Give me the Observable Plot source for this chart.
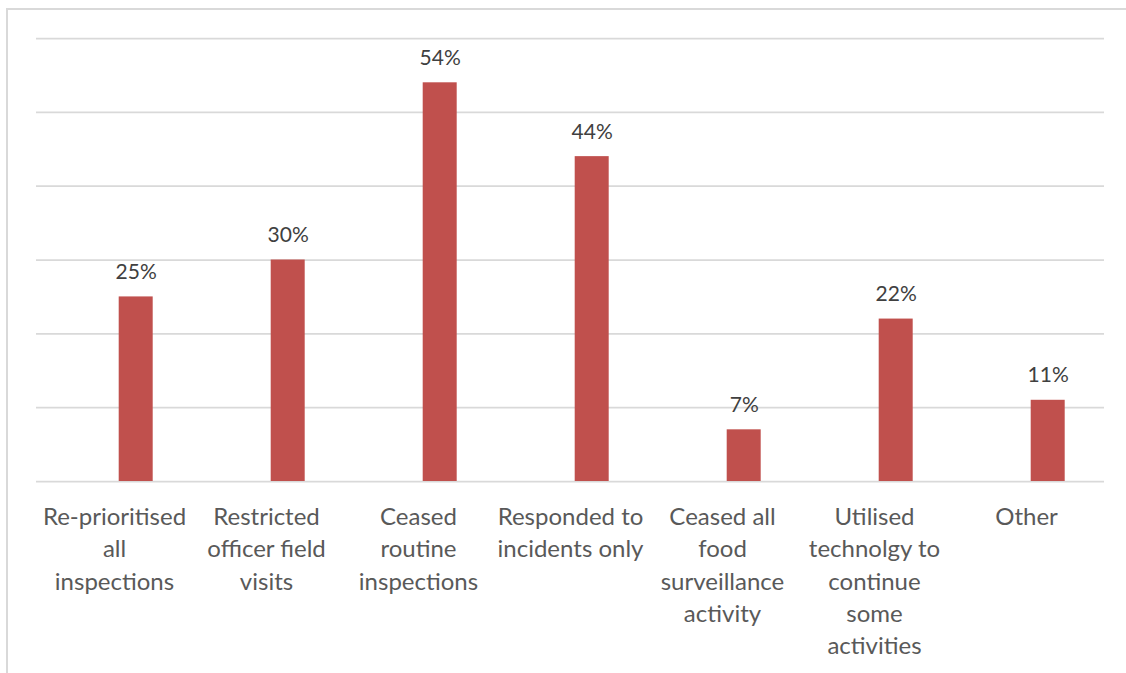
<!DOCTYPE html>
<html><head><meta charset="utf-8">
<script src="https://cdn.jsdelivr.net/npm/d3@7"></script>
<script src="https://cdn.jsdelivr.net/npm/@observablehq/plot@0.6"></script>
<style>
html,body{margin:0;padding:0;background:#fff;}
#wrap{position:relative;width:1126px;height:673px;overflow:hidden;background:#fff;}
#border{position:absolute;left:6px;top:8px;width:1300px;height:900px;border-left:2px solid #d9d9d9;border-top:2px solid #d9d9d9;}
#chart{position:absolute;left:0;top:0;}
</style></head><body>
<div id="wrap"><div id="border"></div><div id="chart"></div></div>
<script>
const categories = [
  "Re-prioritised all inspections",
  "Restricted officer field visits",
  "Ceased routine inspections",
  "Responded to incidents only",
  "Ceased all food surveillance activity",
  "Utilised technolgy to continue some activities",
  "Other"
];
const tickLabels = [
  "Re-prioritised\nall\ninspections",
  "Restricted\nofficer field\nvisits",
  "Ceased\nroutine\ninspections",
  "Responded to\nincidents only",
  "Ceased all\nfood\nsurveillance\nactivity",
  "Utilised\ntechnolgy to\ncontinue\nsome\nactivities",
  "Other"
];
const values = [25, 30, 54, 44, 7, 22, 11];
const yTicks = [0, 10, 20, 30, 40, 50, 60];

const data = categories.map((c, i) => ({category: c, label: tickLabels[i], value: values[i]}));

const chart = Plot.plot({
  width: 1126,
  height: 673,
  marginLeft: 36,
  marginRight: 22,
  marginTop: 38,
  marginBottom: 192,
  style: {background: "transparent", fontFamily: "Lato, 'Liberation Sans', sans-serif"},
  x: {domain: categories, paddingInner: 0.777, paddingOuter: 0.3885, axis: null},
  y: {domain: [0, 60], axis: null},
  marks: [
    Plot.ruleY(yTicks, {stroke: "#d9d9d9", strokeWidth: 1.75}),
    Plot.barY(data, {x: "category", y: "value", fill: "#C0504D", dx: 21.7}),
    Plot.text(data, {x: "category", y: "value", text: d => d.value + "%", dx: 21.7, dy: -18, lineAnchor: "bottom", fontSize: 21, fill: "#404040"}),
    Plot.text(data, {x: "category", text: "label", frameAnchor: "bottom", lineAnchor: "top", dy: 21, fontSize: 24, lineHeight: 1.34, fill: "#595959"})
  ]
});
document.getElementById("chart").appendChild(chart);
</script>
</body></html>
